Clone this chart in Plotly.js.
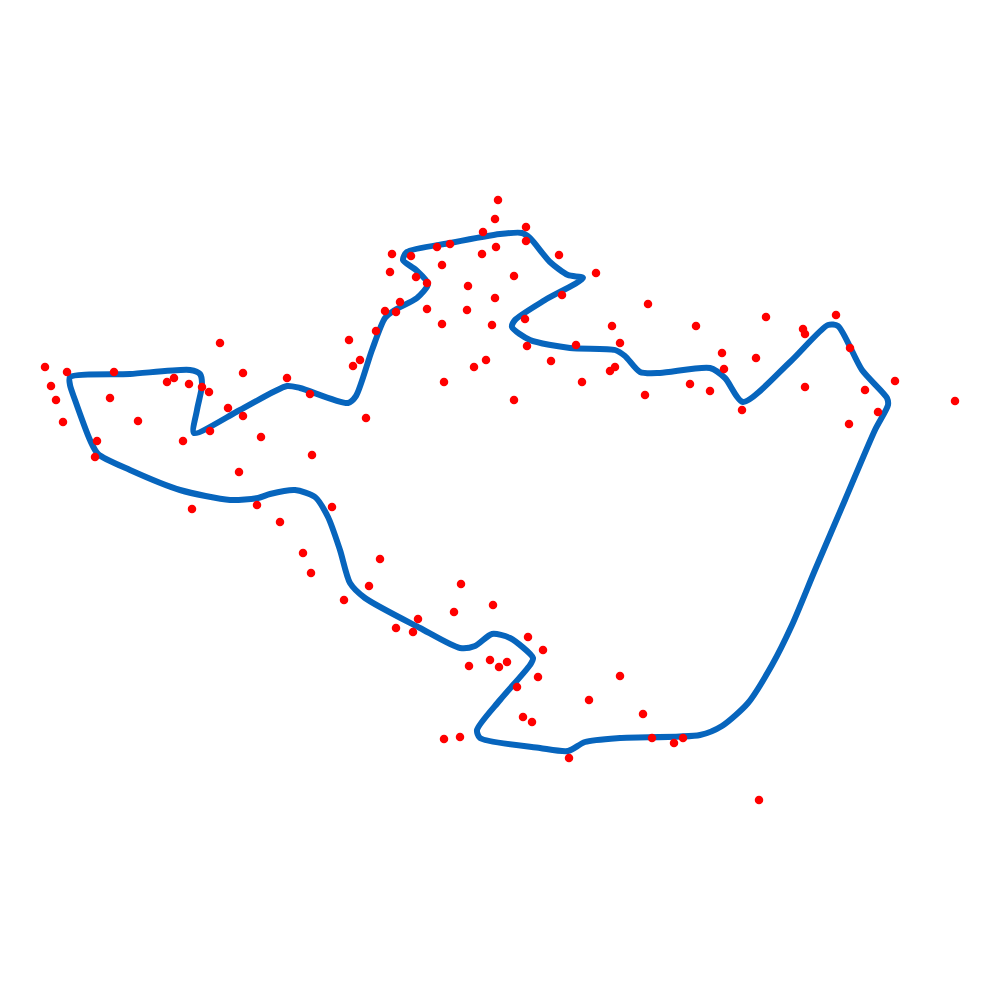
<!DOCTYPE html>
<html>
<head>
<meta charset="utf-8">
<script src="https://cdn.plot.ly/plotly-3.0.1.min.js"></script>
<style>html,body{margin:0;padding:0;background:#fff;}#chart{width:1000px;height:1000px;}</style>
</head>
<body>
<div id="chart"></div>
<script>
// Closed outline (blue)
const outlineX = [70,130,190,200,202,197,194,240,287,300,348,356,372,385,395,417,428,416,403,407,450,500,522,530,550,568,583,545,515,512,530,570,615,625,640,660,710,725,743,790,828,838,862,887,888,875,845,815,792,772,748,722,700,620,585,568,540,480,477,500,530,533,510,492,475,460,420,365,350,340,328,315,295,270,258,230,180,130,98,90,75,70,70];
const outlineY = [377,374,370,374,385,410,433,410,386,388,403,396,350,318,310,298,284,270,260,252,243,234,233,238,262,275,278,300,320,327,340,348,350,356,372,373,368,378,402,362,325,326,370,398,405,430,500,570,625,665,703,726,735,738,742,751,748,738,730,700,665,658,638,634,646,648,628,598,583,550,517,497,490,494,498,500,490,470,454,440,400,385,377];

// Scattered points (red)
const ptsX = [45,67,114,220,51,56,110,243,167,174,189,202,209,228,243,63,138,210,183,261,97,95,239,192,257,280,
  498,495,483,496,482,450,437,392,411,390,442,514,416,427,468,495,400,385,396,427,467,442,492,376,349,360,353,486,474,444,287,310,514,366,
  526,526,559,596,562,648,525,612,696,527,576,620,551,722,724,610,615,582,690,710,645,742,
  766,836,803,805,756,850,805,865,895,955,878,849,
  312,332,303,380,311,369,344,396,413,418,461,493,454,528,543,490,507,499,469,538,620,517,589,643,523,532,444,460,569,652,674,683,759];
const ptsY = [367,372,372,343,386,400,398,373,382,378,384,387,392,408,416,422,421,431,441,437,441,457,472,509,505,522,
  200,219,232,247,254,244,247,254,256,272,265,276,277,283,286,298,302,311,312,309,310,324,325,331,340,360,366,360,367,382,378,394,400,418,
  227,241,255,273,295,304,319,326,326,346,345,343,361,353,369,371,367,382,384,391,395,410,
  317,315,329,334,358,348,387,390,381,401,412,424,
  455,507,553,559,573,586,600,628,632,619,584,605,612,637,650,660,662,667,666,677,676,687,700,714,717,722,739,737,758,738,743,738,800];

const traces = [
  {
    x: outlineX, y: outlineY, type: 'scatter', mode: 'lines',
    line: {color: '#0765bd', width: 6, shape: 'spline', smoothing: 0.7},
    hoverinfo: 'skip', showlegend: false
  },
  {
    x: ptsX, y: ptsY, type: 'scatter', mode: 'markers',
    marker: {color: '#ff0000', size: 8.5},
    showlegend: false
  }
];

const layout = {
  width: 1000, height: 1000,
  margin: {l: 0, r: 0, t: 0, b: 0},
  paper_bgcolor: '#ffffff', plot_bgcolor: '#ffffff',
  xaxis: {range: [0, 1000], visible: false, showgrid: false, zeroline: false},
  yaxis: {range: [1000, 0], visible: false, showgrid: false, zeroline: false},
  showlegend: false
};

Plotly.newPlot('chart', traces, layout, {displayModeBar: false, staticPlot: true});
</script>
</body>
</html>
